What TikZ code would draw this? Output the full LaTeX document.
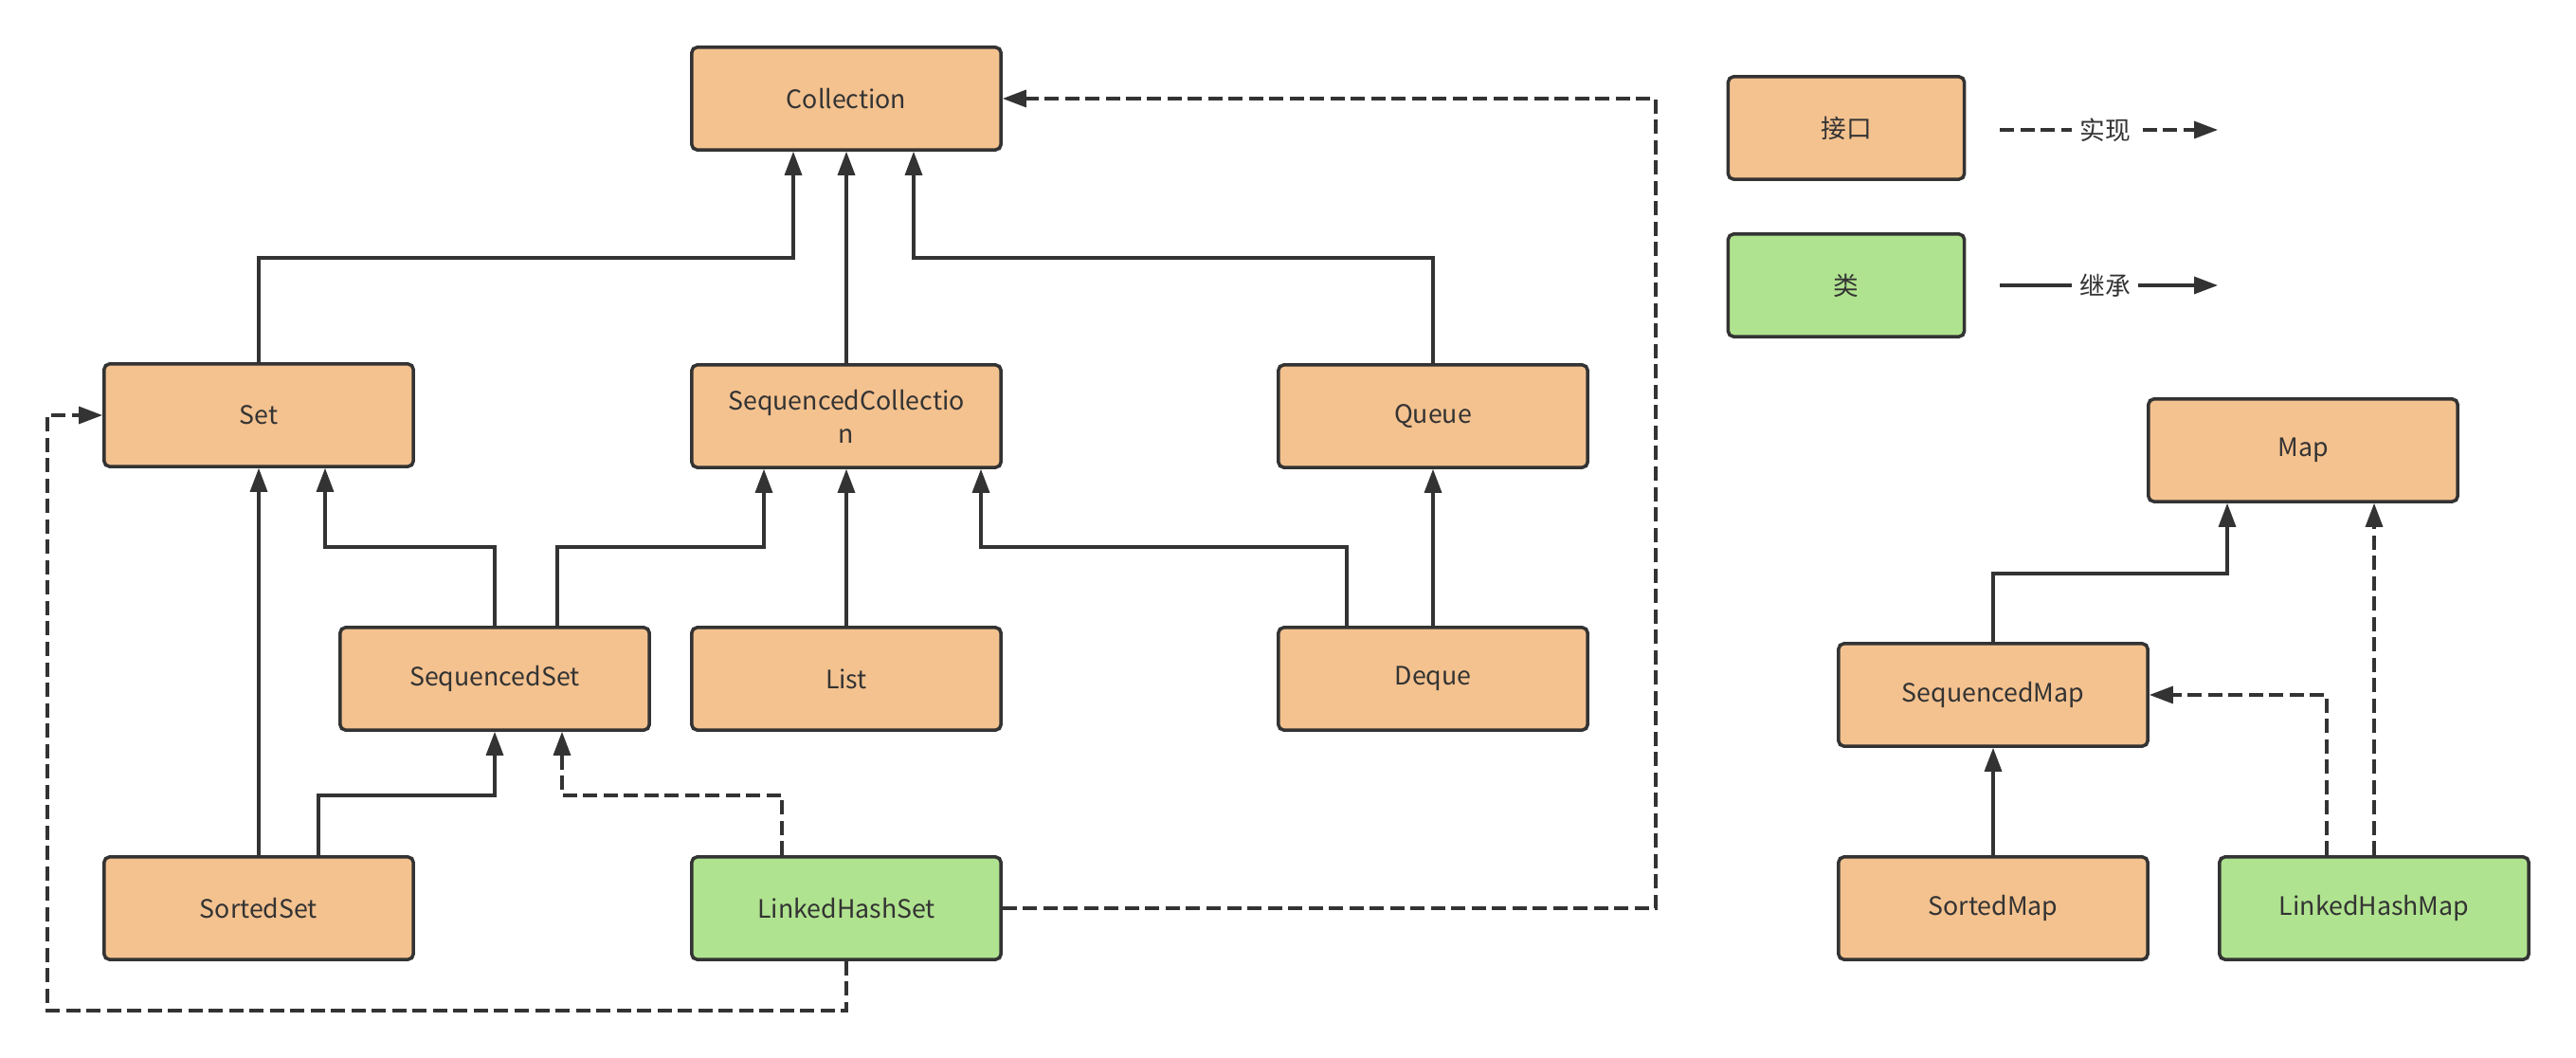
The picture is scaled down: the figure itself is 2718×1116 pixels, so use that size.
\documentclass[tikz,border=0pt]{standalone}
\usepackage{fontspec}
\setmainfont{Noto Sans CJK SC}
\usetikzlibrary{arrows.meta,calc}
\definecolor{iface}{HTML}{F4C28F}
\definecolor{cls}{HTML}{B0E38F}
\definecolor{ink}{HTML}{333333}
\tikzset{
  box/.style={draw=ink, line width=1pt, rounded corners=0.055cm, minimum width=3.26cm, minimum height=1.08cm, inner sep=0pt, font=\fontsize{7.6}{10}\selectfont, text=ink, align=center},
  ifbox/.style={box, fill=iface},
  clbox/.style={box, fill=cls},
  legbox/.style={minimum width=2.49cm},
  inh/.style={draw=ink, line width=0.9pt, -{Triangle[length=0.25cm,width=0.18cm]}},
  impl/.style={inh, dash pattern=on 0.15cm off 0.065cm},
  lbl/.style={fill=white, text=ink, inner xsep=0.08cm, inner ysep=1pt, font=\fontsize{7.6}{10}\selectfont}
}
\begin{document}
\begin{tikzpicture}[x=0.01cm,y=-0.01cm]
\fill[white] (0,0) rectangle (2718,1116);
\useasboundingbox (0,0) rectangle (2718,1116);
% nodes
\node[ifbox] (Collection) at (893,104) {Collection};
\node[ifbox] (Set) at (273,438) {Set};
\node[ifbox] (SeqColl) at (893,439) {SequencedCollectio\\n};
\node[ifbox] (Queue) at (1512,439) {Queue};
\node[ifbox] (SeqSet) at (522,716) {SequencedSet};
\node[ifbox] (List) at (893,716) {List};
\node[ifbox] (Deque) at (1512,716) {Deque};
\node[ifbox] (SortedSet) at (273,958) {SortedSet};
\node[clbox] (LHS) at (893,958) {LinkedHashSet};
\node[ifbox,legbox] (LegI) at (1948,135) {接口};
\node[clbox,legbox] (LegC) at (1948,301) {类};
\node[ifbox] (Map) at (2430,475) {Map};
\node[ifbox] (SeqMap) at (2103,733) {SequencedMap};
\node[ifbox] (SortedMap) at (2103,958) {SortedMap};
\node[clbox] (LHM) at (2505,958) {LinkedHashMap};
% helper coordinates
\coordinate (lx) at (50,0);
\coordinate (rx) at (1747,0);
\coordinate (y272) at (0,272);
\coordinate (y577) at (0,577);
\coordinate (y839) at (0,839);
\coordinate (y605) at (0,605);
\coordinate (y1066) at (0,1066);
\coordinate (ssB) at ($(SortedSet.north)+(63,0)$);
\coordinate (sqB) at ($(SeqSet.north)+(66,0)$);
\coordinate (dqA) at ($(Deque.north)+(-91,0)$);
\coordinate (lhsA) at ($(LHS.north)+(-68,0)$);
\coordinate (lhmA) at ($(LHM.north)+(-50,0)$);
\coordinate (colA) at ($(Collection.south)+(-56,0)$);
\coordinate (colC) at ($(Collection.south)+(71,0)$);
\coordinate (setB) at ($(Set.south)+(70,0)$);
\coordinate (scA) at ($(SeqColl.south)+(-87,0)$);
\coordinate (scC) at ($(SeqColl.south)+(142,0)$);
\coordinate (sqsB) at ($(SeqSet.south)+(71,0)$);
\coordinate (mapA) at ($(Map.south)+(-80,0)$);
% inheritance (solid)
\draw[inh] (Set.north) -- (Set.north |- y272) -| (colA);
\draw[inh] (SeqColl.north) -- (Collection.south);
\draw[inh] (Queue.north) -- (Queue.north |- y272) -| (colC);
\draw[inh] (SortedSet.north) -- (Set.south);
\draw[inh] (ssB) -- (ssB |- y839) -| (SeqSet.south);
\draw[inh] (SeqSet.north) -- (SeqSet.north |- y577) -| (setB);
\draw[inh] (sqB) -- (sqB |- y577) -| (scA);
\draw[inh] (List.north) -- (SeqColl.south);
\draw[inh] (dqA) -- (dqA |- y577) -| (scC);
\draw[inh] (Deque.north) -- (Queue.south);
\draw[inh] (SeqMap.north) -- (SeqMap.north |- y605) -| (mapA);
\draw[inh] (SortedMap.north) -- (SeqMap.south);
% implementation (dashed)
\draw[impl] (lhsA) -- (lhsA |- y839) -| (sqsB);
\draw[impl] (LHS.east) -- (LHS.east -| rx) |- (Collection.east);
\draw[impl] (LHS.south) -- (LHS.south |- y1066) -| (lx |- Set.west) -- (Set.west);
\draw[impl] (lhmA) |- (SeqMap.east);
\draw[impl] (LHM.north) -- (LHM.north |- Map.south);
% legend
\coordinate (la1) at (2110,137);
\coordinate (lb1) at (2340,137);
\coordinate (la2) at (2110,301);
\coordinate (lb2) at (2340,301);
\draw[impl] (la1) -- (lb1);
\node[lbl] (t1) at (2221,137) {实现};
\draw[inh] (la2) -- (lb2);
\node[lbl] (t2) at (2221,301) {继承};
\end{tikzpicture}
\end{document}
